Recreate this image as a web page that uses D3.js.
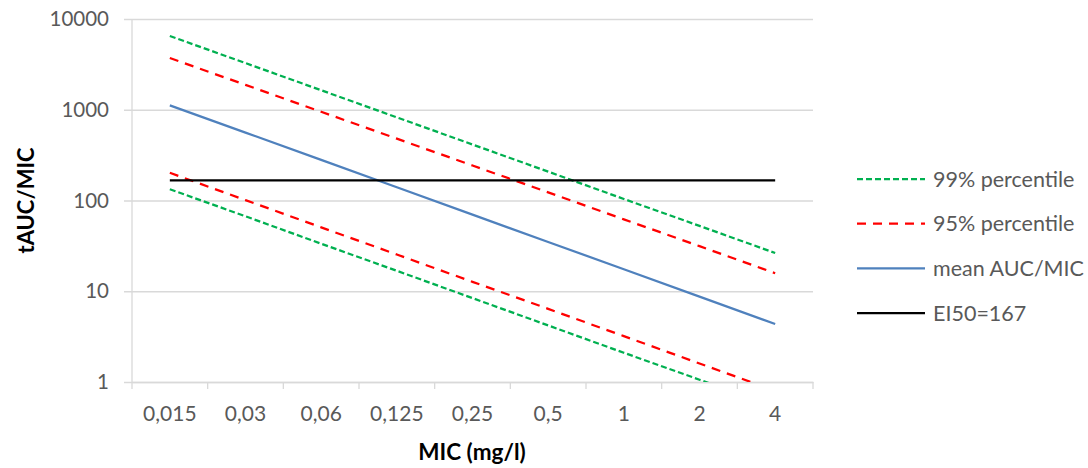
<!DOCTYPE html>
<html lang="en">
<head>
<meta charset="UTF-8">
<title>tAUC/MIC</title>
<style>
  body { margin: 0; background: #fff; }
  text { font-family: Lato, "Open Sans", sans-serif; }
</style>
</head>
<body>
<svg id="vis"></svg>
<script src="https://d3js.org/d3.v7.min.js"></script>
<script>
// Data
const mics = ["0,015", "0,03", "0,06", "0,125", "0,25", "0,5", "1", "2", "4"]
const p99Upper = [6500, 3266, 1641, 824, 414, 208, 104, 52.5, 26.4]
const p95Upper = [3717, 1880, 950, 480, 243, 123, 62, 31.4, 15.8]
const meanAucMic = [1119, 560, 280, 140, 69.9, 34.9, 17.5, 8.72, 4.36]
const p95Lower = [202, 101, 50.6, 25.4, 12.7, 6.4, 3.2, 1.6, 0.8]
const p99Lower = [133, 67, 33.4, 16.8, 8.4, 4.2, 2.1, 1.06, 0.53]
const ei50 = [167, 167, 167, 167, 167, 167, 167, 167, 167]
const yTicks = [1, 10, 100, 1000, 10000]

const series = [
  { name: "99% percentile", values: p99Upper, color: "#00b050", dash: "6,3", legend: true },
  { name: "99% percentile", values: p99Lower, color: "#00b050", dash: "6,3" },
  { name: "95% percentile", values: p95Upper, color: "#ff0000", dash: "9,7", legend: true },
  { name: "95% percentile", values: p95Lower, color: "#ff0000", dash: "9,7" },
  { name: "mean AUC/MIC", values: meanAucMic, color: "#4f81bd", dash: null, legend: true },
  { name: "EI50=167", values: ei50, color: "#000000", dash: null, legend: true }
]

const width = 1088, height = 468
const margin = { top: 19, right: 275, bottom: 86, left: 132 }
const innerW = width - margin.left - margin.right
const innerH = height - margin.top - margin.bottom

const svg = d3.select("#vis").attr("width", width).attr("height", height)

const x = d3.scaleBand().domain(mics).range([0, innerW])
const y = d3.scaleLog().domain([1, 10000]).range([innerH, 0])

const g = svg.append("g").attr("transform", `translate(${margin.left},${margin.top})`)

// gridlines + y axis
const yAxis = g.append("g")
  .call(d3.axisLeft(y).tickValues(yTicks).tickFormat(d3.format("d")).tickSize(innerW + 8).tickPadding(15))
  .attr("transform", `translate(${innerW},0)`)
yAxis.select(".domain").remove()
yAxis.selectAll(".tick line").attr("stroke", "#d9d9d9").attr("stroke-width", 1.3)
yAxis.selectAll(".tick text").attr("fill", "#595959").style("font-size", "20.5px")

g.append("line")
  .attr("x1", 0).attr("x2", 0).attr("y1", 0).attr("y2", innerH)
  .attr("stroke", "#d9d9d9").attr("stroke-width", 1.3)

// x axis
const xAxis = g.append("g")
  .attr("transform", `translate(0,${innerH})`)
  .call(d3.axisBottom(x).tickSize(0).tickPadding(24))
xAxis.select(".domain").attr("stroke", "#d9d9d9").attr("stroke-width", 1.3)
xAxis.selectAll(".tick text").attr("fill", "#595959").style("font-size", "21px")
xAxis.selectAll(".sep")
  .data(d3.range(mics.length + 1))
  .enter().append("line")
  .attr("x1", i => i * x.step()).attr("x2", i => i * x.step())
  .attr("y1", 0).attr("y2", 7)
  .attr("stroke", "#d9d9d9").attr("stroke-width", 1.3)

// clip
svg.append("defs").append("clipPath").attr("id", "plot")
  .append("rect").attr("width", innerW).attr("height", innerH)

const line = d3.line()
  .x((d, i) => x(mics[i]) + x.bandwidth() / 2)
  .y(d => y(Math.max(d, 1e-3)))

g.append("g").attr("clip-path", "url(#plot)")
  .selectAll("path")
  .data(series)
  .enter().append("path")
  .attr("d", d => line(d.values))
  .attr("fill", "none")
  .attr("stroke", d => d.color)
  .attr("stroke-width", 2.25)
  .attr("stroke-dasharray", d => d.dash)

// axis titles
svg.append("text")
  .attr("transform", `translate(34,${margin.top + innerH / 2}) rotate(-90)`)
  .attr("text-anchor", "middle")
  .style("font-size", "22px").style("font-weight", "bold")
  .text("tAUC/MIC")

svg.append("text")
  .attr("x", 472).attr("y", 460)
  .attr("text-anchor", "middle")
  .style("font-size", "22.5px").style("font-weight", "bold")
  .text("MIC (mg/l)")

// legend
const legend = svg.append("g").attr("transform", "translate(857,179)")
const items = legend.selectAll("g")
  .data(series.filter(d => d.legend))
  .enter().append("g")
  .attr("transform", (d, i) => `translate(0,${i * 44.7})`)
items.append("line")
  .attr("x1", 0).attr("x2", 68)
  .attr("stroke", d => d.color).attr("stroke-width", 2.25)
  .attr("stroke-dasharray", d => d.dash)
items.append("text")
  .attr("x", 76).attr("dy", "0.35em")
  .attr("fill", "#595959").style("font-size", "21.5px")
  .text(d => d.name)
</script>
</body>
</html>
